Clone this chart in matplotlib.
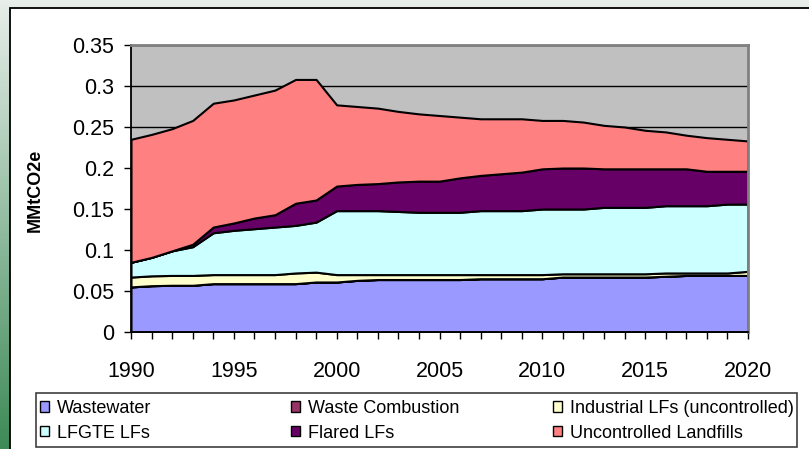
import numpy as np
import matplotlib
matplotlib.use("Agg")
import matplotlib.pyplot as plt
from matplotlib.patches import Patch, Rectangle
from matplotlib.ticker import MultipleLocator, FuncFormatter

plt.rcParams['font.family'] = ['Liberation Sans', 'DejaVu Sans']

# MMtCO2e by source
years = list(range(1990, 2021))

wastewater = [0.055, 0.0565, 0.057, 0.057, 0.059, 0.059, 0.059, 0.059, 0.059, 0.061,
              0.061, 0.063, 0.064, 0.064, 0.064, 0.064, 0.064, 0.065, 0.065, 0.065,
              0.065, 0.067, 0.067, 0.067, 0.067, 0.067, 0.068, 0.069, 0.069, 0.069,
              0.069]
waste_combustion = [0.0, 0.0, 0.0, 0.0, 0.0, 0.0, 0.0, 0.0, 0.0, 0.0,
                    0.0, 0.0, 0.0, 0.0, 0.0, 0.0, 0.0, 0.0, 0.0, 0.0,
                    0.0, 0.0, 0.0, 0.0, 0.0, 0.0, 0.0, 0.0, 0.0, 0.0,
                    0.0]
industrial_lfs = [0.012, 0.012, 0.012, 0.012, 0.011, 0.011, 0.011, 0.011, 0.013, 0.012,
                  0.009, 0.007, 0.006, 0.006, 0.006, 0.006, 0.006, 0.005, 0.005, 0.005,
                  0.005, 0.004, 0.004, 0.004, 0.004, 0.004, 0.004, 0.003, 0.003, 0.003,
                  0.005]
lfgte_lfs = [0.018, 0.0225, 0.030, 0.035, 0.051, 0.054, 0.056, 0.058, 0.058, 0.061,
             0.078, 0.078, 0.078, 0.077, 0.076, 0.076, 0.076, 0.078, 0.078, 0.078,
             0.080, 0.079, 0.079, 0.081, 0.081, 0.081, 0.082, 0.082, 0.082, 0.084,
             0.082]
flared_lfs = [0.0, 0.0, 0.0, 0.003, 0.007, 0.009, 0.013, 0.015, 0.027, 0.027,
              0.030, 0.032, 0.033, 0.036, 0.038, 0.038, 0.042, 0.043, 0.045, 0.047,
              0.049, 0.050, 0.050, 0.047, 0.047, 0.047, 0.045, 0.045, 0.042, 0.040,
              0.040]
uncontrolled = [0.150, 0.150, 0.149, 0.151, 0.151, 0.150, 0.150, 0.152, 0.151, 0.147,
                0.099, 0.095, 0.092, 0.086, 0.082, 0.080, 0.074, 0.069, 0.067, 0.065,
                0.059, 0.058, 0.056, 0.053, 0.051, 0.047, 0.045, 0.041, 0.041, 0.039,
                0.037]

labels = ['Wastewater', 'Waste Combustion', 'Industrial LFs (uncontrolled)',
          'LFGTE LFs', 'Flared LFs', 'Uncontrolled Landfills']
colors = ['#9999ff', '#993366', '#ffffcc', '#ccffff', '#660066', '#ff8080']

W, H = 809, 449
fig = plt.figure(figsize=(W / 100, H / 100), dpi=100)

# slide background: green gradient down the left edge
bg = fig.add_axes([0, 0, 1, 1])
bg.set_zorder(-5)
top = np.array([232, 238, 234]) / 255
bottom = np.array([61, 138, 87]) / 255
t = np.linspace(0, 1, 256)[:, None]
grad = top * (1 - t) + bottom * t
bg.imshow(grad[:, None, :], aspect='auto', extent=[0, 1, 0, 1])
bg.set_axis_off()

# white chart area
fig.patches.append(Rectangle((10 / W, -0.05), 1.0, 1.05 - 8 / H,
                             transform=fig.transFigure, facecolor='white',
                             edgecolor='black', linewidth=1.3, zorder=-1))

ax = fig.add_axes([131 / W, 1 - 332 / H, 617 / W, 287 / H])
ax.set_facecolor('#c0c0c0')
ax.stackplot(years, wastewater, waste_combustion, industrial_lfs, lfgte_lfs,
             flared_lfs, uncontrolled, colors=colors, edgecolor='black',
             linewidth=1.5, zorder=2)

ax.set_xlim(1990, 2020)
ax.set_ylim(0, 0.35)
ax.xaxis.set_major_locator(MultipleLocator(5))
ax.xaxis.set_minor_locator(MultipleLocator(1))
ax.yaxis.set_major_locator(MultipleLocator(0.05))
ax.yaxis.set_major_formatter(FuncFormatter(lambda v, p: f"{v:g}"))
ax.grid(axis='y', color='black', linewidth=1, zorder=1)
ax.set_axisbelow(True)

ax.tick_params(axis='both', which='both', direction='out', length=5, width=1,
               labelsize=15.5, colors='black')
ax.tick_params(axis='x', which='major', pad=16)
ax.tick_params(axis='y', pad=7)

for side in ['left', 'bottom']:
    ax.spines[side].set_color('black')
    ax.spines[side].set_linewidth(1.3)
for side in ['top', 'right']:
    ax.spines[side].set_color('#808080')
    ax.spines[side].set_linewidth(2)

ax.set_ylabel('MMtCO2e', fontsize=13, fontweight='bold')
ax.yaxis.set_label_coords(-0.141, 0.495)

# legend box with three equal-width columns, like Excel lays it out
fig.patches.append(Rectangle((36 / W, 1 - 447 / H), 761 / W, 54 / H,
                             transform=fig.transFigure, facecolor='white',
                             edgecolor='#404040', linewidth=1.2, zorder=3))
col_x = [40, 291, 553]
for c, x in enumerate(col_x):
    idx = [c, c + 3]
    handles = [Patch(facecolor=colors[i], edgecolor='black', linewidth=1) for i in idx]
    leg = fig.legend(handles, [labels[i] for i in idx], loc='upper left',
                     bbox_to_anchor=(x / W, 1 - 400 / H), fontsize=13,
                     frameon=False, handlelength=0.5, handleheight=0.5,
                     handletextpad=0.45, borderpad=0, borderaxespad=0,
                     labelspacing=0.42)
    leg.set_zorder(4)

fig.savefig('out.png', dpi=100)
